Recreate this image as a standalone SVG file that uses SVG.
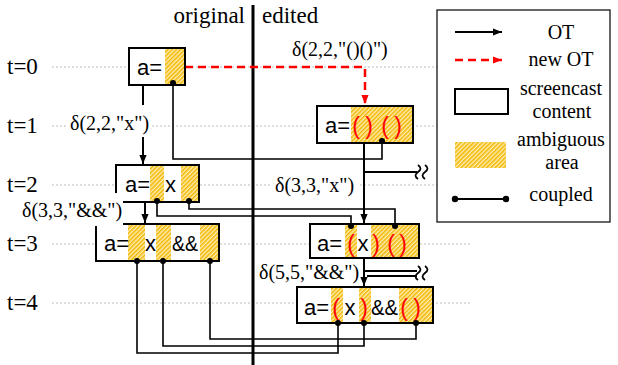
<svg xmlns="http://www.w3.org/2000/svg" width="618" height="365" viewBox="0 0 618 365">
<style>
.serif{font-family:"Liberation Serif","Times New Roman",serif;fill:#000}
.lab{font-size:20px}
.big{font-size:23px}
.sans{font-family:"Liberation Sans",Arial,sans-serif;font-size:22px;fill:#000}
.par{font-family:"Liberation Sans",Arial,sans-serif;font-size:23px;fill:#FF0000;text-anchor:middle}
.box{fill:none;stroke:#000;stroke-width:2}
.bg{fill:#fff}
.grid{stroke:#BDBDBD;stroke-width:1;stroke-dasharray:2 2}
.ln{fill:none;stroke:#000;stroke-width:2}
.cp{fill:none;stroke:#000;stroke-width:1.6}
.red{fill:none;stroke:#FF0000;stroke-width:2.5;stroke-dasharray:8 5}
.dot{fill:#000}
.sq{fill:none;stroke:#000;stroke-width:1.8}
</style>
<defs>
<pattern id="hatch" patternUnits="userSpaceOnUse" width="3" height="3" patternTransform="rotate(45)">
<rect width="3" height="3" fill="#FFEDB0"/>
<line x1="0.75" y1="0" x2="0.75" y2="3" stroke="#F2B600" stroke-width="1.5"/>
</pattern>
<marker id="ah" markerUnits="userSpaceOnUse" markerWidth="9" markerHeight="9" viewBox="0 0 10 10" refX="10" refY="5" orient="auto">
<path d="M0,1 L10,5 L0,9 z" fill="#000"/>
</marker>
<marker id="ahr" markerUnits="userSpaceOnUse" markerWidth="9" markerHeight="9" viewBox="0 0 10 10" refX="10" refY="5" orient="auto">
<path d="M0,1 L10,5 L0,9 z" fill="#FF0000"/>
</marker>
</defs>
<rect width="618" height="365" fill="#fff"/>

<g id="grid">
<line class="grid" x1="52" y1="67" x2="470" y2="67"/>
<line class="grid" x1="52" y1="126" x2="470" y2="126"/>
<line class="grid" x1="52" y1="185" x2="470" y2="185"/>
<line class="grid" x1="52" y1="244" x2="470" y2="244"/>
<line class="grid" x1="52" y1="303" x2="470" y2="303"/>
</g>

<g id="time-labels" class="serif big">
<text x="7" y="74">t=0</text>
<text x="7" y="133">t=1</text>
<text x="7" y="192">t=2</text>
<text x="7" y="251">t=3</text>
<text x="7" y="310">t=4</text>
</g>

<g id="divider">
<line x1="253" y1="5" x2="253" y2="365" stroke="#000" stroke-width="3"/>
<text class="serif big" x="245" y="23" text-anchor="end">original</text>
<text class="serif big" x="262" y="23">edited</text>
</g>

<g id="connectors">
<path class="red" d="M185,67 H365 V104" marker-end="url(#ahr)"/>
<line class="ln" x1="143" y1="85" x2="143" y2="164" marker-end="url(#ah)"/>
<line class="ln" x1="145" y1="202" x2="145" y2="223" marker-end="url(#ah)"/>
<line class="ln" x1="364" y1="143" x2="364" y2="223" marker-end="url(#ah)"/>
<line class="ln" x1="364" y1="172" x2="417" y2="172"/>
<line class="ln" x1="364" y1="258" x2="364" y2="286" marker-end="url(#ah)"/>
<line class="ln" x1="364" y1="271" x2="417" y2="271"/>
<line class="ln" x1="367" y1="276" x2="417" y2="276"/>
<path class="cp" d="M173,83 V159 H382 V141"/>
<path class="cp" d="M189,201 V209 H395 V226"/>
<path class="cp" d="M157,201 V216 H351 V226"/>
<path class="cp" d="M210,261 V339 H416 V323"/>
<path class="cp" d="M163,261 V346 H364 V323"/>
<path class="cp" d="M137,261 V353 H338 V323"/>
<path class="sq" d="M418,165 q5,3.5 0,7 q-5,3.5 0,7 M425,165 q5,3.5 0,7 q-5,3.5 0,7"/>
<path class="sq" d="M418,266 q5,3.5 0,7 q-5,3.5 0,7 M425,266 q5,3.5 0,7 q-5,3.5 0,7"/>
</g>

<g id="n0">
<rect x="129" y="48" width="56" height="37" fill="#fff"/>
<rect x="165" y="48" width="20" height="37" fill="url(#hatch)"/>
<rect class="box" x="129" y="48" width="56" height="37"/>
<text class="sans" x="137" y="75">a=</text>
<circle class="dot" cx="173" cy="83" r="3"/>
</g>

<g id="n1">
<rect x="317" y="106" width="96" height="37" fill="#fff"/>
<rect x="351" y="106" width="62" height="37" fill="url(#hatch)"/>
<rect class="box" x="317" y="106" width="96" height="37"/>
<text class="sans" x="325" y="133">a=</text>
<text class="par" y="134"><tspan x="356">(</tspan><tspan x="369">)</tspan><tspan x="385">(</tspan><tspan x="398">)</tspan></text>
<circle class="dot" cx="382" cy="141" r="3"/>
</g>

<g id="n2">
<rect x="116" y="165" width="83" height="37" fill="#fff"/>
<rect x="150" y="165" width="14" height="37" fill="url(#hatch)"/>
<rect x="181" y="165" width="18" height="37" fill="url(#hatch)"/>
<rect class="box" x="116" y="165" width="83" height="37"/>
<text class="sans" x="125" y="192">a=</text>
<text class="sans" x="165" y="192">x</text>
<circle class="dot" cx="157" cy="201" r="3"/>
<circle class="dot" cx="189" cy="201" r="3"/>
</g>

<g id="n3-original">
<rect x="96" y="224" width="123" height="37" fill="#fff"/>
<rect x="128" y="224" width="17" height="37" fill="url(#hatch)"/>
<rect x="156" y="224" width="15" height="37" fill="url(#hatch)"/>
<rect x="200" y="224" width="18" height="37" fill="url(#hatch)"/>
<rect class="box" x="96" y="224" width="123" height="37"/>
<text class="sans" x="104" y="251">a=</text>
<text class="sans" x="145" y="251">x</text>
<text class="sans" x="172" y="251" textLength="26" lengthAdjust="spacingAndGlyphs">&amp;&amp;</text>
<circle class="dot" cx="137" cy="261" r="3"/>
<circle class="dot" cx="163" cy="261" r="3"/>
<circle class="dot" cx="210" cy="261" r="3"/>
</g>

<g id="n3-edited">
<rect x="310" y="224" width="109" height="34" fill="#fff"/>
<rect x="345" y="224" width="12" height="34" fill="url(#hatch)"/>
<rect x="371" y="224" width="48" height="34" fill="url(#hatch)"/>
<rect class="box" x="310" y="224" width="109" height="34"/>
<text class="sans" x="317" y="251">a=</text>
<text class="par" y="252"><tspan x="351">(</tspan><tspan x="376">)</tspan><tspan x="391">(</tspan><tspan x="403">)</tspan></text>
<text class="sans" x="363" y="251" text-anchor="middle">x</text>
<circle class="dot" cx="351" cy="226" r="3"/>
<circle class="dot" cx="395" cy="226" r="3"/>
</g>

<g id="n4">
<rect x="297" y="287" width="136" height="36" fill="#fff"/>
<rect x="331" y="287" width="12" height="36" fill="url(#hatch)"/>
<rect x="359" y="287" width="12" height="36" fill="url(#hatch)"/>
<rect x="399" y="287" width="34" height="36" fill="url(#hatch)"/>
<rect class="box" x="297" y="287" width="136" height="36"/>
<text class="sans" x="304" y="315">a=</text>
<text class="par" y="316"><tspan x="336">(</tspan><tspan x="364">)</tspan><tspan x="404">(</tspan><tspan x="417">)</tspan></text>
<text class="sans" x="350" y="315" text-anchor="middle">x</text>
<text class="sans" x="371" y="315" textLength="27" lengthAdjust="spacingAndGlyphs">&amp;&amp;</text>
<circle class="dot" cx="338" cy="323" r="3"/>
<circle class="dot" cx="364" cy="323" r="3"/>
<circle class="dot" cx="416" cy="323" r="3"/>
</g>

<g id="edge-labels" class="serif lab">
<rect class="bg" x="66" y="105" width="86" height="32"/>
<text x="70" y="130">δ(2,2,"x")</text>
<rect class="bg" x="18" y="193" width="105" height="33"/>
<text x="22" y="217">δ(3,3,"&amp;&amp;")</text>
<rect class="bg" x="272" y="176" width="86" height="22"/>
<text x="275" y="192">δ(3,3,"x")</text>
<rect class="bg" x="257" y="262" width="102" height="22"/>
<text x="259" y="279">δ(5,5,"&amp;&amp;")</text>
<text x="292" y="56">δ(2,2,"()()")</text>
</g>

<g id="legend">
<rect x="437" y="10" width="173" height="212" fill="#fff" stroke="#000" stroke-width="1.2"/>
<line class="ln" x1="455" y1="32" x2="502" y2="32" marker-end="url(#ah)"/>
<line stroke="#FF0000" stroke-width="2.5" stroke-dasharray="8 5" x1="455" y1="60" x2="502" y2="60" marker-end="url(#ahr)"/>
<rect x="455" y="89" width="53" height="25" fill="#fff" stroke="#000" stroke-width="2"/>
<rect x="455" y="142" width="51" height="26" fill="url(#hatch)"/>
<line class="ln" x1="455" y1="199" x2="506" y2="199"/>
<circle class="dot" cx="455" cy="199" r="3.2"/>
<circle class="dot" cx="506" cy="199" r="3.2"/>
<g class="serif lab" text-anchor="middle">
<text x="561" y="39">OT</text>
<text x="561" y="66">new OT</text>
<text x="561" y="95">screencast</text>
<text x="562" y="118">content</text>
<text x="561" y="146">ambiguous</text>
<text x="562" y="169">area</text>
<text x="561" y="201">coupled</text>
</g>
</g>
</svg>
